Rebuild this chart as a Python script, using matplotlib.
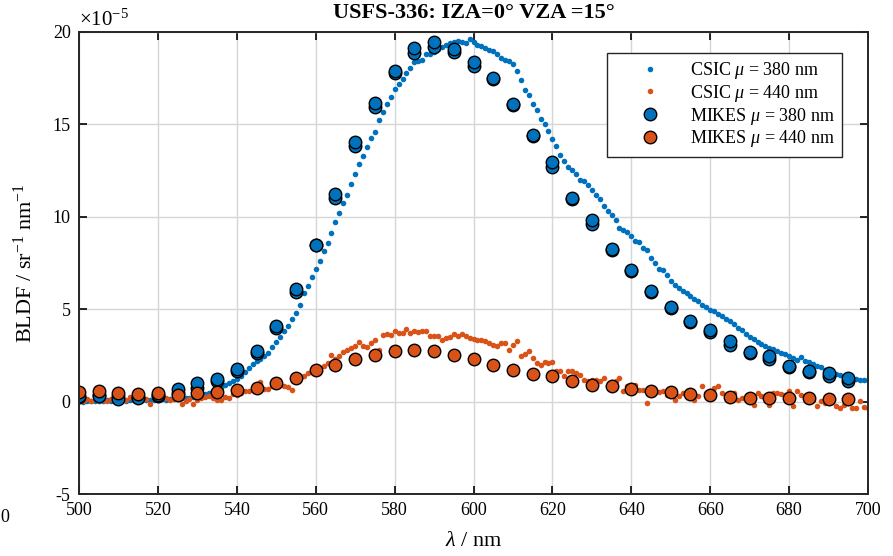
import numpy as np
import matplotlib
matplotlib.use("Agg")
import matplotlib.pyplot as plt

plt.rcParams["font.family"] = ["Liberation Serif", "DejaVu Serif"]
plt.rcParams["mathtext.fontset"] = "custom"
plt.rcParams["mathtext.rm"] = "Liberation Serif"
plt.rcParams["mathtext.it"] = "Liberation Serif:italic"
plt.rcParams["axes.unicode_minus"] = False

# CSIC data, 1 nm step (values in 1e-5 sr^-1 nm^-1)
csic_wl = np.arange(500, 701)
csic_380 = [
    0.02, 0.00, 0.03, 0.01, 0.05, 0.03, 0.02, 0.06, 0.04, 0.05,
    0.05, 0.07, 0.04, 0.08, 0.06, 0.09, 0.07, 0.10, 0.08, 0.11,
    0.10, 0.12, 0.11, 0.14, 0.13, 0.16, 0.18, 0.20, 0.22, 0.25,
    0.29, 0.34, 0.40, 0.47, 0.55, 0.65, 0.76, 0.88, 1.00, 1.10,
    1.22, 1.36, 1.60, 1.82, 2.02, 2.18, 2.32, 2.46, 2.65, 2.95,
    3.20, 3.50, 3.80, 4.10, 4.45, 4.80, 5.20, 5.85, 6.25, 6.75,
    7.20, 7.60, 8.15, 8.60, 9.10, 9.70, 10.20, 10.75, 11.20, 11.80,
    12.30, 12.85, 13.30, 13.75, 14.25, 14.60, 15.25, 15.65, 16.10, 16.50,
    16.90, 17.20, 17.45, 17.80, 18.05, 18.35, 18.42, 18.50, 18.80, 18.83,
    18.90, 19.10, 19.20, 19.30, 19.40, 19.48, 19.50, 19.45, 19.38, 19.62,
    19.48, 19.32, 19.26, 19.14, 19.00, 18.96, 18.83, 18.60, 18.50, 18.45,
    18.27, 17.87, 17.42, 16.88, 16.60, 16.10, 15.76, 15.30, 15.03, 14.63,
    14.23, 13.85, 13.37, 13.04, 12.70, 12.55, 12.34, 12.01, 11.92, 11.74,
    11.47, 11.20, 10.97, 10.60, 10.30, 10.12, 9.81, 9.40, 9.31, 9.16,
    8.98, 8.67, 8.62, 8.32, 8.19, 7.78, 7.50, 7.18, 7.14, 6.87,
    6.55, 6.33, 6.15, 5.97, 5.85, 5.72, 5.55, 5.43, 5.25, 5.12,
    4.98, 4.89, 4.75, 4.62, 4.48, 4.35, 4.18, 3.99, 3.85, 3.68,
    3.52, 3.39, 3.25, 3.10, 3.00, 2.92, 2.85, 2.74, 2.65, 2.56,
    2.45, 2.35, 2.27, 2.42, 2.20, 2.13, 2.03, 1.93, 1.85, 1.72,
    1.65, 1.56, 1.50, 1.42, 1.37, 1.30, 1.24, 1.21, 1.19, 1.17,
    1.15,
]
csic_440 = [
    0.10, 0.05, 0.15, 0.02, 0.43, 0.20, 0.10, 0.02, 0.15, 0.10,
    0.29, 0.15, 0.10, 0.25, 0.07, 0.15, 0.10, 0.12, -0.11, 0.20,
    0.33, 0.25, 0.18, 0.11, 0.14, 0.20, -0.11, 0.05, 0.14, -0.11,
    0.10, 0.20, 0.25, 0.29, 0.20, 0.10, 0.07, 0.25, 0.20, 0.43,
    0.33, 0.47, 0.56, 0.60, 0.65, 0.92, 1.04, 0.69, 0.69, 0.83,
    0.98, 0.90, 0.83, 0.79, 0.65, 1.10, 1.28, 1.41, 1.55, 1.62,
    1.77, 1.64, 1.91, 2.10, 2.54, 2.30, 2.45, 2.67, 2.80, 2.90,
    2.99, 3.21, 3.03, 2.96, 3.17, 3.32, 2.78, 3.63, 3.68, 3.60,
    3.81, 3.72, 3.72, 3.93, 3.72, 3.81, 3.78, 3.81, 3.81, 3.57,
    3.54, 3.57, 3.32, 3.45, 3.50, 3.68, 3.54, 3.68, 3.57, 3.44,
    3.40, 3.35, 3.32, 3.26, 3.17, 3.08, 2.99, 3.17, 3.17, 2.81,
    3.08, 3.26, 2.45, 2.60, 2.72, 2.36, 2.09, 2.00, 2.13, 2.09,
    2.13, 1.64, 1.64, 1.37, 1.64, 1.64, 1.55, 1.45, 1.19, 1.10,
    1.19, 1.15, 1.10, 1.28, 0.83, 1.05, 1.10, 1.28, 0.56, 0.83,
    0.90, 0.92, 0.65, 0.65, -0.07, 0.60, 0.65, 0.50, 0.56, 0.38,
    0.45, 0.11, 0.29, 0.47, 0.38, 0.29, 0.11, 0.30, 0.87, 0.47,
    0.55, 0.74, 0.87, 0.47, 0.38, 0.40, 0.47, 0.11, 0.20, 0.15,
    0.11, -0.16, 0.47, 0.29, 0.30, -0.16, 0.47, 0.47, 0.40, 0.38,
    0.56, -0.25, 0.56, 0.38, 0.29, 0.20, 0.11, -0.25, 0.02, -0.07,
    0.00, 0.02, -0.25, -0.34, -0.16, -0.10, -0.34, -0.34, 0.02, -0.30,
    -0.35,
]

# MIKES data, 5 nm step, two repeated measurements at 380 nm
mikes_wl = np.arange(500, 700, 5)
mikes_380_a = [
    0.30, 0.29, 0.15, 0.20, 0.35, 0.69, 1.00, 1.23, 1.78, 2.72,
    4.11, 6.10, 8.50, 11.24, 14.03, 16.13, 17.87, 19.14, 19.44, 19.10,
    18.38, 17.50, 16.10, 14.40, 12.95, 11.00, 9.80, 8.26, 7.14, 6.00,
    5.12, 4.35, 3.88, 3.26, 2.67, 2.45, 1.91, 1.64, 1.55, 1.26,
]
mikes_380_b = [
    0.25, 0.35, 0.30, 0.25, 0.30, 0.47, 0.74, 1.10, 1.64, 2.63,
    3.99, 5.95, 8.50, 11.02, 13.85, 15.93, 17.80, 18.87, 19.20, 18.92,
    18.14, 17.45, 16.05, 14.35, 12.70, 10.95, 9.60, 8.20, 7.05, 5.95,
    5.08, 4.30, 3.75, 3.06, 2.62, 2.30, 1.88, 1.60, 1.40, 1.12,
]
mikes_440 = [
    0.50, 0.56, 0.47, 0.41, 0.47, 0.38, 0.47, 0.54, 0.65, 0.76,
    1.02, 1.30, 1.70, 2.00, 2.33, 2.54, 2.74, 2.81, 2.74, 2.54,
    2.33, 2.00, 1.73, 1.51, 1.37, 1.10, 0.92, 0.83, 0.69, 0.56,
    0.50, 0.43, 0.37, 0.27, 0.20, 0.20, 0.20, 0.20, 0.16, 0.16,
]

blue = "#0072BD"
orange = "#D95319"

fig = plt.figure(figsize=(8.93, 5.56), dpi=100)
ax = fig.add_axes([0.0885, 0.1115, 0.8835, 0.831])

ax.plot(csic_wl, csic_380, "o", color=blue, ms=4.0, mew=0, label=r"CSIC $\mu$ = 380 nm")
ax.plot(csic_wl, csic_440, "o", color=orange, ms=4.0, mew=0, label=r"CSIC $\mu$ = 440 nm")
ax.plot(mikes_wl, mikes_380_b, "o", color=blue, mec="black", ms=9, mew=1.0)
ax.plot(mikes_wl, mikes_380_a, "o", color=blue, mec="black", ms=9, mew=1.0, label=r"MIKES $\mu$ = 380 nm")
ax.plot(mikes_wl, mikes_440, "o", color=orange, mec="black", ms=9, mew=1.0, label=r"MIKES $\mu$ = 440 nm")

ax.set_xlim(500, 700)
ax.set_ylim(-5, 20)
ax.set_xticks(np.arange(500, 701, 20))
ax.set_yticks(np.arange(-5, 21, 5))
ax.tick_params(direction="in", length=6, width=1.2, labelsize=13, top=True, right=True, pad=6)
ax.grid(True, color="#d6d6d6", linewidth=1.0)
ax.set_axisbelow(True)
for s in ax.spines.values():
    s.set_linewidth(1.4)
    s.set_color("#262626")

ax.set_xlabel(r"$\it{\lambda}$ / nm", fontsize=16, labelpad=9)
ax.set_ylabel(r"BLDF / sr$^{-1}$ nm$^{-1}$", fontsize=16, labelpad=11)
ax.set_title("USFS-336: IZA=0° VZA =15°", fontsize=16, fontweight="bold", pad=10)
ax.text(0.0, 1.002, r"$\times$10$^{-5}$", transform=ax.transAxes, fontsize=15, ha="left", va="bottom")
fig.text(0.0, 0.069, "0", fontsize=13, ha="left", va="center")

leg = ax.legend(loc="upper right", bbox_to_anchor=(0.967, 0.955), borderaxespad=0, fontsize=13,
                fancybox=False, framealpha=1, edgecolor="#262626", borderpad=0.4, handlelength=4.0,
                handletextpad=0.2, labelspacing=0.1)
leg.get_frame().set_linewidth(1.0)

fig.savefig("out.png", dpi=100)
